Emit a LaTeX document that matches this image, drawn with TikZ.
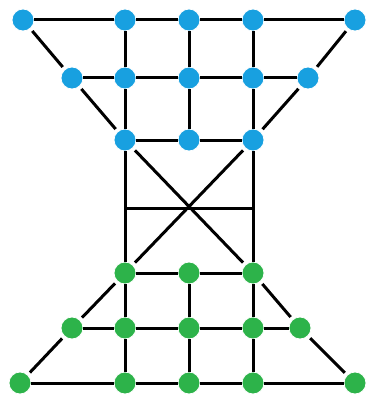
\documentclass[tikz,border=0pt]{standalone}
\usepackage{xcolor}
\usepackage{tikz}
\definecolor{dotblue}{RGB}{24,160,224}
\definecolor{dotgreen}{RGB}{45,179,74}

\begin{document}
\begin{tikzpicture}[x=1pt, y=-1pt,
    dot/.style={circle, inner sep=0pt, minimum size=22pt, draw=white, line width=0.8pt},
    bdot/.style={dot, fill=dotblue},
    gdot/.style={dot, fill=dotgreen},
    edge/.style={black, line width=3pt},
    slant/.style={edge, shorten <=3pt, shorten >=3pt}]
  \useasboundingbox (0,0) rectangle (368,401);
  % blue rows
  \node[bdot] (b11) at (23,20) {};
  \node[bdot] (b12) at (125,20) {};
  \node[bdot] (b13) at (189,20) {};
  \node[bdot] (b14) at (253,20) {};
  \node[bdot] (b15) at (355,20) {};
  \node[bdot] (b21) at (72,78) {};
  \node[bdot] (b22) at (125,78) {};
  \node[bdot] (b23) at (189,78) {};
  \node[bdot] (b24) at (253,78) {};
  \node[bdot] (b25) at (308,78) {};
  \node[bdot] (b31) at (125,140) {};
  \node[bdot] (b32) at (189,140) {};
  \node[bdot] (b33) at (253,140) {};
  % green rows
  \node[gdot] (g11) at (125,273) {};
  \node[gdot] (g12) at (189,273) {};
  \node[gdot] (g13) at (253,273) {};
  \node[gdot] (g21) at (72,328) {};
  \node[gdot] (g22) at (125,328) {};
  \node[gdot] (g23) at (189,328) {};
  \node[gdot] (g24) at (253,328) {};
  \node[gdot] (g25) at (300,328) {};
  \node[gdot] (g31) at (20,383) {};
  \node[gdot] (g32) at (125,383) {};
  \node[gdot] (g33) at (189,383) {};
  \node[gdot] (g34) at (253,383) {};
  \node[gdot] (g35) at (355,383) {};
  \coordinate (ml) at (125,208);
  \coordinate (mr) at (253,208);
  % connectors
  \draw[edge] (b11) -- (b12) -- (b13) -- (b14) -- (b15);
  \draw[edge] (b21) -- (b22) -- (b23) -- (b24) -- (b25);
  \draw[edge] (b31) -- (b32) -- (b33);
  \draw[edge] (b12) -- (b22) -- (b31) -- (g11) -- (g22) -- (g32);
  \draw[edge] (b13) -- (b23) -- (b32);
  \draw[edge] (b14) -- (b24) -- (b33) -- (g13) -- (g24) -- (g34);
  \draw[edge] (g12) -- (g23) -- (g33);
  \draw[edge] (ml) -- (mr);
  \draw[edge] (g11) -- (g12) -- (g13);
  \draw[edge] (g21) -- (g22) -- (g23) -- (g24) -- (g25);
  \draw[edge] (g31) -- (g32) -- (g33) -- (g34) -- (g35);
  \draw[slant] (b11) -- (b21);
  \draw[slant] (b21) -- (b31);
  \draw[slant] (b15) -- (b25);
  \draw[slant] (b25) -- (b33);
  \draw[slant] (b31) -- (g13);
  \draw[slant] (b33) -- (g11);
  \draw[slant] (g11) -- (g21);
  \draw[slant] (g21) -- (g31);
  \draw[slant] (g13) -- (g25);
  \draw[slant] (g25) -- (g35);
\end{tikzpicture}
\end{document}
